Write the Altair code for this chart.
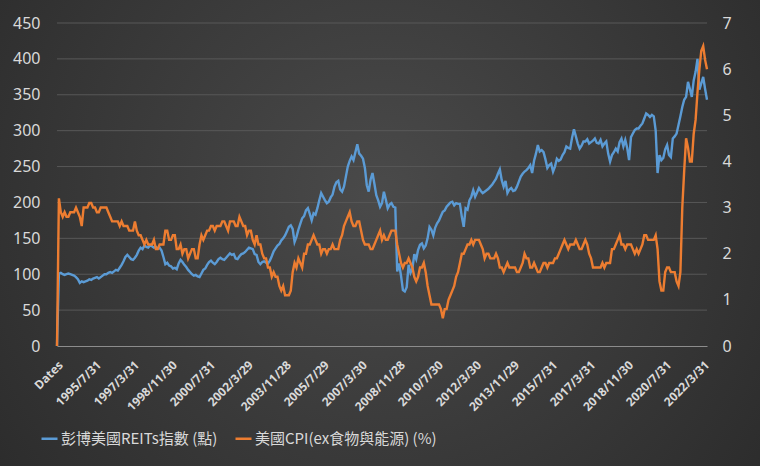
import altair as alt
import pandas as pd

TICK_LABELS = ["Dates", "1995/7/31", "1997/3/31", "1998/11/30", "2000/7/31", "2002/3/29",
               "2003/11/28", "2005/7/29", "2007/3/30", "2008/11/28", "2010/7/30", "2012/3/30",
               "2013/11/29", "2015/7/31", "2017/3/31", "2018/11/30", "2020/7/31", "2022/3/31"]

SERIES = ["彭博美國REITs指數 (點)", "美國CPI(ex食物與能源) (%)"]
COLORS = ["#5b9bd5", "#ed7d31"]

LEFT_TICKS = [0, 50, 100, 150, 200, 250, 300, 350, 400, 450]
RIGHT_TICKS = [0, 1, 2, 3, 4, 5, 6, 7]

# monthly values: header row ("Dates") + 1993/12 ... 2022/5
REITS = [0, 101,
    102, 100, 99, 100, 101, 100, 99, 98, 96, 93, 88, 90,            # 1994
    89, 90, 91, 93, 92, 94, 95, 96, 94, 96, 98, 100,                # 1995
    100, 102, 103, 102, 104, 106, 105, 109, 113, 118, 124, 127,     # 1996
    124, 121, 120, 123, 127, 133, 137, 135, 140, 138, 137, 140,     # 1997
    139, 137, 138, 136, 137, 133, 124, 114, 116, 112, 111, 108,     # 1998
    109, 107, 115, 120, 117, 113, 110, 106, 103, 100, 98, 99,       # 1999
    97, 96, 101, 106, 108, 113, 117, 119, 116, 114, 117, 121,       # 2000
    123, 121, 120, 123, 126, 129, 127, 128, 122, 121, 125, 128,     # 2001
    129, 131, 134, 137, 136, 135, 128, 127, 117, 114, 117, 118,     # 2002
    116, 115, 119, 125, 132, 136, 140, 142, 147, 150, 154, 160,     # 2003
    166, 168, 163, 145, 152, 162, 170, 178, 181, 189, 192, 184,     # 2004
    175, 185, 183, 192, 203, 213, 208, 203, 199, 201, 207, 211,     # 2005
    222, 228, 230, 218, 215, 222, 236, 250, 258, 264, 259, 270,     # 2006
    281, 268, 265, 261, 248, 224, 215, 232, 241, 226, 210, 203,     # 2007
    194, 199, 215, 204, 192, 197, 199, 194, 193, 104, 115, 98,      # 2008
    78, 76, 82, 113, 102, 108, 128, 121, 134, 141, 143, 136,        # 2009
    140, 150, 166, 162, 154, 165, 171, 175, 181, 187, 189, 194,     # 2010
    197, 200, 201, 196, 199, 198, 198, 180, 166, 192, 190, 203,     # 2011
    208, 217, 208, 214, 220, 216, 213, 215, 217, 219, 222, 225,     # 2012
    229, 233, 240, 246, 231, 222, 230, 213, 218, 220, 216, 217,     # 2013
    222, 229, 236, 240, 243, 245, 248, 252, 241, 258, 268, 280,     # 2014
    271, 273, 270, 260, 248, 252, 254, 243, 250, 261, 258, 260,     # 2015
    266, 270, 278, 276, 275, 290, 302, 292, 282, 275, 279, 285,     # 2016
    285, 288, 282, 284, 286, 289, 283, 282, 287, 278, 282, 285,     # 2017
    268, 257, 266, 270, 275, 271, 284, 289, 278, 287, 276, 259,     # 2018
    291, 296, 301, 303, 303, 307, 310, 317, 324, 322, 319, 322,     # 2019
    320, 300, 241, 266, 259, 262, 274, 280, 266, 263, 289, 292,     # 2020
    296, 308, 320, 333, 343, 347, 368, 358, 347, 370, 382, 400,     # 2021
    357, 366, 375, 358, 343]                                        # 2022

CPI = [0, 3.2,
    2.9, 2.8, 2.9, 2.8, 2.8, 2.9, 2.9, 2.9, 3.0, 2.9, 2.8, 2.6,    # 1994
    3.0, 3.0, 3.0, 3.1, 3.1, 3.0, 3.0, 2.9, 2.9, 3.0, 3.0, 3.0,    # 1995
    3.0, 2.9, 2.8, 2.7, 2.7, 2.7, 2.7, 2.6, 2.7, 2.6, 2.6, 2.6,    # 1996
    2.5, 2.5, 2.5, 2.7, 2.5, 2.4, 2.4, 2.3, 2.2, 2.3, 2.2, 2.2,    # 1997
    2.2, 2.3, 2.1, 2.1, 2.2, 2.2, 2.2, 2.5, 2.5, 2.3, 2.3, 2.4,    # 1998
    2.4, 2.1, 2.1, 2.2, 2.0, 2.1, 2.1, 1.9, 2.0, 2.1, 2.1, 1.9,    # 1999
    1.9, 2.2, 2.4, 2.3, 2.4, 2.5, 2.5, 2.6, 2.6, 2.5, 2.6, 2.6,    # 2000
    2.6, 2.7, 2.7, 2.6, 2.5, 2.7, 2.7, 2.7, 2.6, 2.6, 2.8, 2.7,    # 2001
    2.6, 2.6, 2.4, 2.5, 2.5, 2.3, 2.2, 2.4, 2.2, 2.2, 2.0, 1.9,    # 2002
    1.9, 1.7, 1.7, 1.5, 1.6, 1.5, 1.5, 1.3, 1.2, 1.3, 1.1, 1.1,    # 2003
    1.1, 1.2, 1.6, 1.8, 1.7, 1.9, 1.8, 1.7, 2.0, 2.0, 2.2, 2.2,    # 2004
    2.3, 2.4, 2.3, 2.2, 2.2, 2.0, 2.1, 2.1, 2.0, 2.1, 2.1, 2.2,    # 2005
    2.1, 2.1, 2.1, 2.3, 2.4, 2.6, 2.7, 2.8, 2.9, 2.7, 2.6, 2.6,    # 2006
    2.7, 2.7, 2.5, 2.3, 2.2, 2.2, 2.2, 2.1, 2.1, 2.2, 2.3, 2.4,    # 2007
    2.5, 2.3, 2.4, 2.3, 2.3, 2.4, 2.5, 2.5, 2.5, 2.2, 2.0, 1.8,    # 2008
    1.7, 1.8, 1.8, 1.9, 1.8, 1.7, 1.5, 1.4, 1.5, 1.7, 1.7, 1.8,    # 2009
    1.6, 1.3, 1.1, 0.9, 0.9, 0.9, 0.9, 0.9, 0.8, 0.6, 0.8, 0.8,    # 2010
    1.0, 1.1, 1.2, 1.3, 1.5, 1.6, 1.8, 2.0, 2.0, 2.1, 2.2, 2.2,    # 2011
    2.3, 2.2, 2.3, 2.3, 2.3, 2.2, 2.1, 1.9, 2.0, 2.0, 1.9, 1.9,    # 2012
    1.9, 2.0, 1.9, 1.7, 1.7, 1.6, 1.7, 1.8, 1.7, 1.7, 1.7, 1.7,    # 2013
    1.6, 1.6, 1.7, 1.8, 2.0, 1.9, 1.9, 1.7, 1.7, 1.8, 1.7, 1.6,    # 2014
    1.6, 1.7, 1.8, 1.8, 1.7, 1.8, 1.8, 1.8, 1.9, 1.9, 2.0, 2.1,    # 2015
    2.2, 2.3, 2.2, 2.1, 2.2, 2.2, 2.2, 2.3, 2.2, 2.1, 2.1, 2.2,    # 2016
    2.3, 2.2, 2.0, 1.9, 1.7, 1.7, 1.7, 1.7, 1.7, 1.8, 1.7, 1.8,    # 2017
    1.8, 1.8, 2.1, 2.1, 2.2, 2.3, 2.4, 2.2, 2.2, 2.1, 2.2, 2.2,    # 2018
    2.2, 2.1, 2.0, 2.1, 2.0, 2.1, 2.2, 2.4, 2.4, 2.3, 2.3, 2.3,    # 2019
    2.3, 2.4, 2.1, 1.4, 1.2, 1.2, 1.6, 1.7, 1.7, 1.6, 1.6, 1.6,    # 2020
    1.4, 1.3, 1.6, 3.0, 3.8, 4.5, 4.3, 4.0, 4.0, 4.6, 4.9, 5.5,    # 2021
    6.0, 6.4, 6.5, 6.2, 6.0]                                       # 2022

n = len(REITS)
df = pd.DataFrame({"i": list(range(n)), "reits": REITS, "cpi": CPI})
grid_df = pd.DataFrame({"g": LEFT_TICKS[1:]})

label_expr = "[" + ",".join("'%s'" % t for t in TICK_LABELS) + "][round(datum.value / 20)]"

TXT = "#d9d9d9"
AXIS_FONT = "Noto Sans"

x_scale = alt.Scale(domain=[0, n - 1], nice=False, zero=False)
x_enc = alt.X(
    "i:Q", scale=x_scale,
    axis=alt.Axis(
        values=list(range(0, n, 20)), labelExpr=label_expr, labelAngle=-45,
        labelAlign="right", labelBaseline="top", labelPadding=13,
        labelFontSize=12, labelFontWeight="bold", labelFont=AXIS_FONT, labelColor=TXT,
        ticks=False, tickSize=0, grid=False, domainColor="#8c8c8c", domainWidth=1,
        title=None, labelOverlap=False, labelBound=False, labelFlush=False, zindex=1,
    ),
)

left_scale = alt.Scale(domain=[0, 450], nice=False)
right_scale = alt.Scale(domain=[0, 7], nice=False)

color_scale = alt.Scale(domain=SERIES, range=COLORS)
legend = alt.Legend(
    title=None, orient="none", direction="horizontal", legendX=-17, legendY=406,
    symbolType="stroke", symbolSize=256, symbolStrokeWidth=2.5,
    labelFontSize=15, labelFont="Noto Sans CJK TC", labelColor=TXT, labelLimit=0,
    columnPadding=12, labelOffset=2, padding=0,
)

bg = alt.Chart(alt.Data(values=[{}])).mark_rect(
    color=alt.RadialGradient(
        gradient="radial",
        stops=[alt.GradientStop(color="#4a4a4a", offset=0),
               alt.GradientStop(color="#262626", offset=1)],
        x1=0.5, y1=0.45, x2=0.5, y2=0.45, r1=0, r2=0.75,
    )
).encode(x=alt.value(-57), x2=alt.value(703), y=alt.value(-23), y2=alt.value(443))

left_axis = alt.Axis(values=LEFT_TICKS, orient="left", title=None,
                     labelFontSize=16, labelFont=AXIS_FONT, labelColor=TXT,
                     ticks=False, tickSize=0, labelPadding=17, domain=False,
                     grid=False, zindex=1)

grid = alt.Chart(grid_df).mark_rule(color="#585858", strokeWidth=1).encode(
    y=alt.Y("g:Q", scale=left_scale, axis=left_axis),
)

blue = alt.Chart(df).transform_calculate(s="'%s'" % SERIES[0]).mark_line(strokeWidth=2.4).encode(
    x=x_enc,
    y=alt.Y("reits:Q", scale=left_scale, axis=left_axis),
    color=alt.Color("s:N", scale=color_scale, legend=legend),
)

orange = alt.Chart(df).transform_calculate(s="'%s'" % SERIES[1]).mark_line(strokeWidth=2.4).encode(
    x=x_enc,
    y=alt.Y("cpi:Q", scale=right_scale,
            axis=alt.Axis(values=RIGHT_TICKS, orient="right", title=None,
                          labelFontSize=16, labelFont=AXIS_FONT, labelColor=TXT,
                          ticks=False, tickSize=0, labelPadding=15, domain=False,
                          grid=False, zindex=1)),
    color=alt.Color("s:N", scale=color_scale, legend=legend),
)

chart = alt.layer(bg, alt.layer(grid, blue), orange).resolve_scale(y="independent").properties(
    width=650, height=323, padding=0, background="#303030"
).configure_view(stroke=None)

chart.save("out.html", embed_options={"renderer": "svg", "actions": False})
